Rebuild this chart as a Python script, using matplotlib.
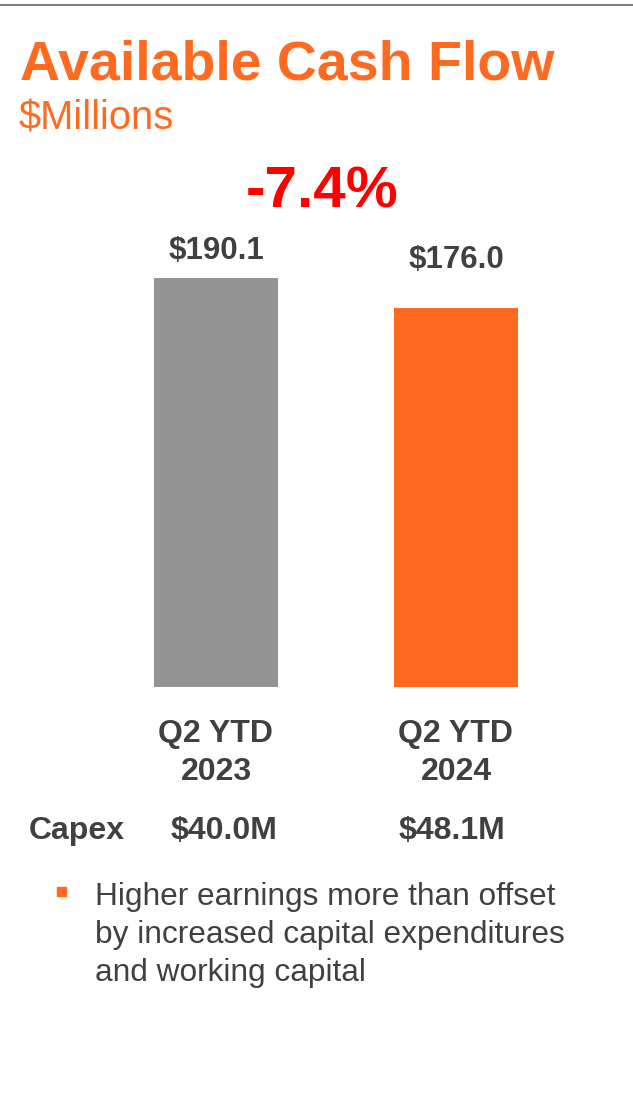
#!/usr/bin/env python3
"""Available Cash Flow slide: Q2 YTD 2023 vs 2024 bar chart."""
import matplotlib
matplotlib.use("Agg")
import matplotlib.pyplot as plt
from matplotlib.lines import Line2D
from matplotlib.patches import Rectangle

plt.rcParams["font.family"] = ["Liberation Sans", "DejaVu Sans"]

# data
periods = ["Q2 YTD\n2023", "Q2 YTD\n2024"]
cash_flow = [190.1, 176.0]
value_labels = ["$190.1", "$176.0"]
capex_labels = ["$40.0M", "$48.1M"]
change_label = "-7.4%"
bullet_text = ("Higher earnings more than offset\n"
               "by increased capital expenditures\n"
               "and working capital")

ORANGE = "#FF6A21"
GRAY_BAR = "#949494"
DARK = "#404040"
W, H = 633, 1109


def fx(px):
    return px / W


def fy(px):
    return 1 - px / H


fig = plt.figure(figsize=(W / 100, H / 100), dpi=100)

# thin rule along the top of the slide
fig.add_artist(Line2D([0, 1], [fy(4.5), fy(4.5)], color="#808080", lw=1.5))

fig.text(fx(20), fy(80), "Available Cash Flow", color=ORANGE, fontsize=40,
         fontweight="bold", va="baseline", ha="left")
fig.text(fx(19), fy(130), "$Millions", color=ORANGE, fontsize=28.8,
         va="baseline", ha="left")

# bar axes: bottom at px 687, bar centres at px 216 / 456
ax = fig.add_axes([0, fy(687), 1, fy(160) - fy(687)])
x = list(range(len(cash_flow)))
ax.bar(x, cash_flow, width=0.517, color=[GRAY_BAR, ORANGE])
ax.set_xlim(-0.9, 1.7375)
ax.set_ylim(0, 245)
for s in ax.spines.values():
    s.set_visible(False)
ax.set_yticks([])
ax.set_xticks(x)
ax.set_xticklabels(periods, fontsize=23, fontweight="bold", color=DARK)
ax.tick_params(axis="x", length=0, pad=23)
for t in ax.get_xticklabels():
    t.set_linespacing(1.36)

label_offsets = [13.7, 28.8]  # points above bar top
for xi, v, lab, off in zip(x, cash_flow, value_labels, label_offsets):
    ax.annotate(lab, xy=(xi, v), xytext=(0, off), textcoords="offset points",
                ha="center", va="baseline", fontsize=22.5, fontweight="bold",
                color=DARK)

fig.text(fx(322), fy(208), change_label, color="#FF0000", fontsize=42,
         fontweight="bold", ha="center", va="baseline")

# capex row
fig.text(fx(29), fy(839), "Capex", color=DARK, fontsize=23, fontweight="bold",
         ha="left", va="baseline")
capex_dx = [0.035, -0.015]
trans = matplotlib.transforms.blended_transform_factory(ax.transData, fig.transFigure)
for xi, lab, dx in zip(x, capex_labels, capex_dx):
    fig.text(xi + dx, fy(839), lab, transform=trans, color=DARK, fontsize=23,
             fontweight="bold", ha="center", va="baseline")

# bullet
fig.add_artist(Rectangle((fx(57), fy(896)), fx(9), 9 / H, color=ORANGE,
                         transform=fig.transFigure))
fig.text(fx(95), fy(882), bullet_text, color=DARK, fontsize=22.8, ha="left",
         va="top", linespacing=1.35)

fig.savefig("out.png", dpi=100)
